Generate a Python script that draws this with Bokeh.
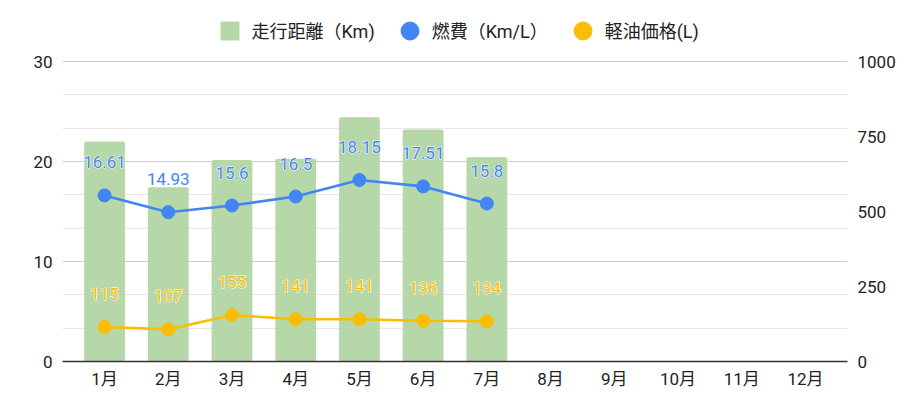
from bokeh.plotting import figure
from bokeh.models import (ColumnDataSource, Range1d, LinearAxis, FixedTicker,
                          Legend, LegendItem, LabelSet)
from bokeh.core.properties import value
from bokeh.embed import file_html
from bokeh.resources import INLINE

months = ["1月", "2月", "3月", "4月", "5月", "6月", "7月", "8月", "9月", "10月", "11月", "12月"]
distance = [733, 581, 672, 676, 814, 773, 681]
fuel_eff = [16.61, 14.93, 15.6, 16.5, 18.15, 17.51, 15.8]
price = [115, 107, 155, 141, 141, 136, 134]
left_ticks = [0, 10, 20, 30]
right_ticks = [0, 250, 500, 750, 1000]
series_names = ["走行距離（Km)", "燃費（Km/L）", "軽油価格(L)"]

FONT = "Roboto, 'Noto Sans CJK JP'"
GREEN = "#b6d7a8"
BLUE = "#4285f4"
YELLOW = "#fbbc04"

# frame spans canvas top to the baseline; 300 px for the value span, headroom for the legend
HEAD = 361 / 300.0
left_minor = [v for a, b in zip(left_ticks[:-1], left_ticks[1:]) for v in (a + (b - a) / 3, a + 2 * (b - a) / 3)]

n = len(distance)
src = ColumnDataSource(dict(
    x=list(range(n)),
    dist=distance,
    eff=fuel_eff,
    price=price,
    eff_txt=[f"{v:g}" for v in fuel_eff],
    price_txt=[str(v) for v in price],
))

p = figure(width=912, height=401, output_backend="svg", toolbar_location=None,
           x_range=Range1d(-0.66, len(months) - 1 + 0.66),
           y_range=Range1d(0, left_ticks[-1] * HEAD),
           min_border_left=62, min_border_right=65, min_border_top=0, min_border_bottom=40)
p.outline_line_color = None
p.background_fill_color = "white"
p.extra_y_ranges = {"right": Range1d(0, right_ticks[-1] * HEAD)}

bars = p.vbar(x="x", top="dist", width=0.64, source=src, y_range_name="right",
              fill_color=GREEN, line_color=None, border_radius=2)

l1 = p.line("x", "eff", source=src, line_color=BLUE, line_width=2.6)
c1 = p.scatter("x", "eff", source=src, size=13, fill_color=BLUE, line_color=BLUE)

l2 = p.line("x", "price", source=src, line_color=YELLOW, line_width=2.6, y_range_name="right")
c2 = p.scatter("x", "price", source=src, size=13, fill_color=YELLOW, line_color=YELLOW,
               y_range_name="right")

lab_common = dict(source=src, x="x", y_offset=33, text_align="center", text_baseline="middle",
                  text_font=value(FONT), text_font_size="17px")
halo1 = LabelSet(y="eff", text="eff_txt", text_color="white", text_outline_color="white", **lab_common)
halo2 = LabelSet(y="price", text="price_txt", text_color="white", text_outline_color="white",
                 y_range_name="right", **lab_common)
lab1 = LabelSet(y="eff", text="eff_txt", text_color=BLUE, **lab_common)
lab2 = LabelSet(y="price", text="price_txt", text_color=YELLOW, y_range_name="right", **lab_common)
for lab in (halo1, halo2, lab1, lab2):
    p.add_layout(lab)

p.xaxis.ticker = FixedTicker(ticks=list(range(len(months))))
p.xaxis.major_label_overrides = {i: m for i, m in enumerate(months)}
p.xaxis.axis_line_color = "#333333"
p.xaxis.axis_line_width = 1.3
p.xaxis.major_label_standoff = 7

p.yaxis.ticker = FixedTicker(ticks=left_ticks, minor_ticks=left_minor)
p.yaxis.axis_line_color = None
p.yaxis.major_label_standoff = 10

raxis = LinearAxis(y_range_name="right", ticker=FixedTicker(ticks=right_ticks))
raxis.axis_line_color = None
raxis.major_label_standoff = 10
p.add_layout(raxis, "right")

for ax in [p.xaxis[0], p.yaxis[0], raxis]:
    ax.major_tick_line_color = None
    ax.minor_tick_line_color = None
    ax.major_tick_out = 0
    ax.major_tick_in = 0
    ax.minor_tick_out = 0
    ax.minor_tick_in = 0
    ax.major_label_text_font = FONT
    ax.major_label_text_font_size = "17px"
    ax.major_label_text_color = "#222222"
    ax.major_label_text_font_style = "normal"

p.xgrid.grid_line_color = None
p.ygrid.grid_line_color = "#cccccc"
p.ygrid.minor_grid_line_color = "#e8e8e8"

# hidden square marker renderer used only as the bar series' legend swatch
lg_bar = p.scatter("x", "dist", source=src, marker="square", fill_color=GREEN, line_color=GREEN,
                   y_range_name="right", visible=False)

legend = Legend(items=[
    LegendItem(label=series_names[0], renderers=[lg_bar]),
    LegendItem(label=series_names[1], renderers=[c1]),
    LegendItem(label=series_names[2], renderers=[c2]),
], orientation="horizontal", location=(144.5, 308.5), glyph_width=45, glyph_height=45,
    label_standoff=0, spacing=12, padding=0, margin=0, border_line_color=None,
    background_fill_alpha=0, label_text_font=FONT, label_text_font_size="18px",
    label_text_color="#222222")
p.add_layout(legend, "center")

open("out.html", "w").write(file_html(p, INLINE))
